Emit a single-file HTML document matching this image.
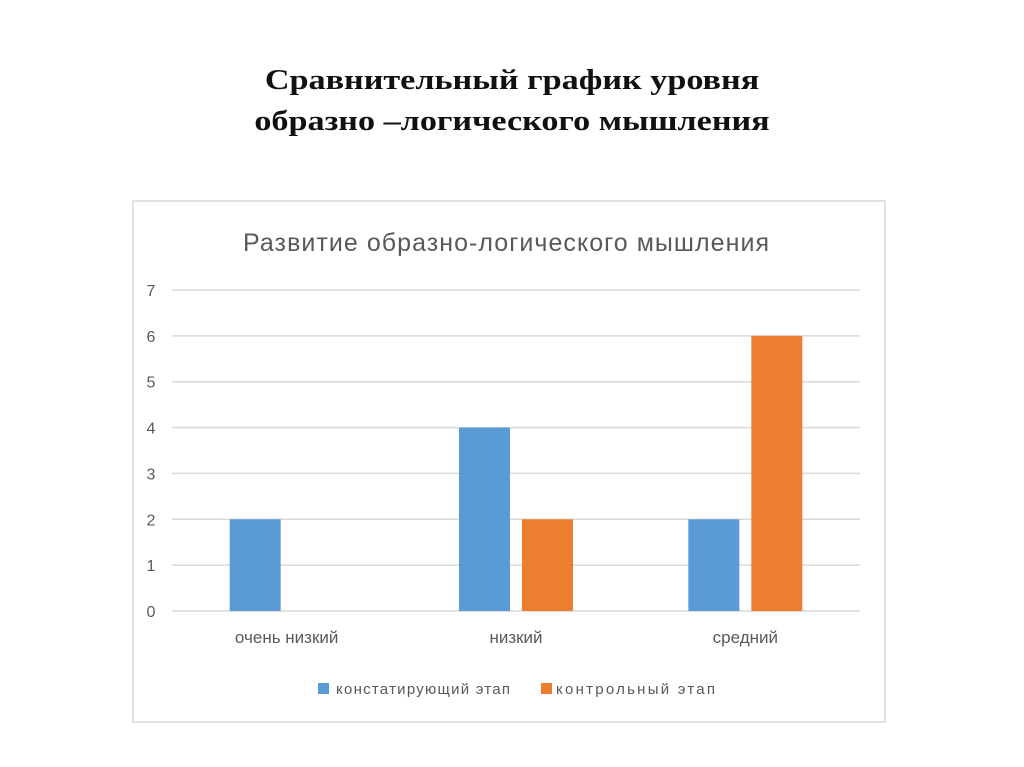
<!DOCTYPE html>
<html><head><meta charset="utf-8"><style>
body{margin:0;background:#fff;width:1024px;height:767px;overflow:hidden;font-family:"Liberation Sans","DejaVu Sans",sans-serif}
#t{position:absolute;left:0;width:1024px;top:60px;text-align:center;font-family:"Liberation Serif",serif;font-weight:bold;font-size:28px;line-height:41px;color:#111;transform:scaleX(1.22);transform-origin:512px 0}
</style></head><body>
<div id="t">Сравнительный график уровня<br>образно –логического мышления</div>
<svg id="c" width="1024" height="767" style="position:absolute;left:0;top:0">
<rect x="133" y="201" width="752" height="521" fill="none" stroke="#d9d9d9" stroke-width="1.5"/>
<text x="506" y="251" text-anchor="middle" font-size="25" fill="#595959" textLength="526">Развитие образно-логического мышления</text>
<g id="g"></g>
<rect x="318" y="683" width="11" height="11" fill="#5b9bd5"/>
<text x="336" y="694" font-size="15" fill="#595959" textLength="174">констатирующий этап</text>
<rect x="541" y="683" width="11" height="11" fill="#ed7d31"/>
<text x="556" y="694" font-size="15" fill="#595959" textLength="159">контрольный этап</text>
</svg>
<script>
const categories=["очень низкий","низкий","средний"];
const seriesA=[2,4,2];
const seriesB=[0,2,6];
const ticks=[0,1,2,3,4,5,6,7];
const NS="http://www.w3.org/2000/svg",g=document.getElementById('g');
const x0=172,x1=860,y0=611,yTop=290,maxV=7;
const y=v=>y0-(y0-yTop)*v/maxV;
const bw=(x1-x0)/categories.length;
function mk(t,a){const e=document.createElementNS(NS,t);for(const k in a)e.setAttribute(k,a[k]);g.appendChild(e);return e;}
ticks.forEach(v=>{
 const l=mk('line',{x1:x0,x2:x1,y1:y(v),y2:y(v),stroke:'#d9d9d9','stroke-width':1.5});
 
 
 const t=mk('text',{x:151,y:y(v)+6,'text-anchor':'middle','font-size':16,fill:'#595959'});t.textContent=v;
 
 
});
categories.forEach((c,i)=>{
 const cx=x0+bw*(i+0.5);
 const a=mk('rect',{x:cx-57,y:y(seriesA[i]),width:51,height:y0-y(seriesA[i]),fill:'#5b9bd5'});
 
 
 if(seriesB[i]>0){const b=mk('rect',{x:cx+6,y:y(seriesB[i]),width:51,height:y0-y(seriesB[i]),fill:'#ed7d31'});
 
 }
 const t=mk('text',{x:cx,y:643,'text-anchor':'middle','font-size':17,fill:'#595959'});t.textContent=c;
 
 
});
</script>
</body></html>
